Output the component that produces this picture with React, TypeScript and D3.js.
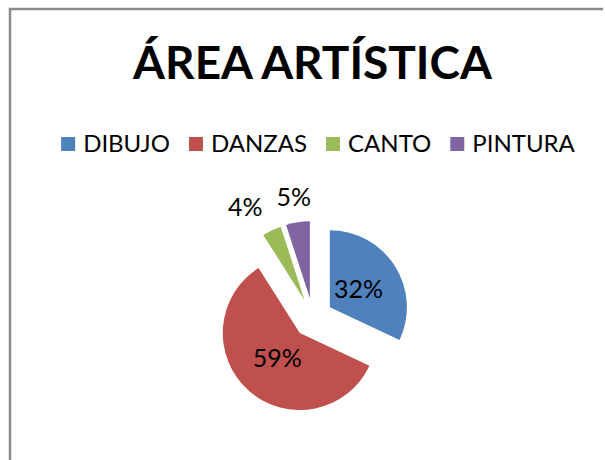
import React, { useEffect, useRef } from "react";
import * as d3 from "d3";

const title = "ÁREA ARTÍSTICA";
const categories = ["DIBUJO", "DANZAS", "CANTO", "PINTURA"];
const values = [32, 59, 4, 5];
const colors = ["#4F81BD", "#C0504D", "#9BBB59", "#8064A2"];

const W = 605;
const H = 460;
const FONT = "Lato, 'Open Sans', sans-serif";

export default function App() {
  const ref = useRef<SVGSVGElement>(null);

  useEffect(() => {
    const svg = d3.select(ref.current);
    svg.selectAll("*").remove();

    // frame (cropped chart area)
    svg
      .append("path")
      .attr("d", `M10,${H + 5} L10,9 L603,9`)
      .attr("fill", "none")
      .attr("stroke", "#8a8a8a")
      .attr("stroke-width", 2.5);

    // title
    svg
      .append("text")
      .attr("x", 312.5)
      .attr("y", 79)
      .attr("text-anchor", "middle")
      .attr("font-family", FONT)
      .attr("font-weight", "bold")
      .attr("font-size", 46)
      .attr("fill", "#000")
      .text(title);

    // legend
    const legendG = svg.append("g");
    const sq = 14;
    const gapText = 8;
    const gapItem = 19;
    let x = 0;
    categories.forEach((c, i) => {
      legendG
        .append("rect")
        .attr("x", x)
        .attr("y", 137)
        .attr("width", sq)
        .attr("height", sq)
        .attr("fill", colors[i]);
      const t = legendG
        .append("text")
        .attr("x", x + sq + gapText)
        .attr("y", 152)
        .attr("font-family", FONT)
        .attr("font-size", 24)
        .attr("fill", "#000")
        .text(c);
      const w = (t.node() as SVGTextElement).getComputedTextLength();
      x += sq + gapText + w + (i < categories.length - 1 ? gapItem : 0);
    });
    legendG.attr("transform", `translate(${318 - x / 2},0)`);

    // pie
    const cx = 313;
    const cy = 318;
    const r = 77;
    const explode = 20;
    const pie = d3
      .pie<number>()
      .sort(null)
      .value((d) => d)
      .startAngle(0)
      .endAngle(2 * Math.PI);
    const arcs = pie(values);
    const arc = d3.arc<d3.PieArcDatum<number>>().innerRadius(0).outerRadius(r);
    const total = d3.sum(values);

    const g = svg.append("g").attr("transform", `translate(${cx},${cy})`);
    const offsets = arcs.map((a) => {
      const mid = (a.startAngle + a.endAngle) / 2;
      return { dx: Math.sin(mid) * explode, dy: -Math.cos(mid) * explode, ux: Math.sin(mid), uy: -Math.cos(mid) };
    });

    g.selectAll("path.slice")
      .data(arcs)
      .enter()
      .append("path")
      .attr("class", "slice")
      .attr("d", (d) => arc(d) as string)
      .attr("fill", (_, i) => colors[i])
      .attr("transform", (_, i) => `translate(${offsets[i].dx},${offsets[i].dy})`);

    // labels
    type L = { text: string; x: number; y: number; w: number; outside: boolean; node?: SVGTextElement };
    const labels: L[] = arcs.map((a, i) => {
      const pct = Math.round((values[i] / total) * 100) + "%";
      const o = offsets[i];
      const outside = values[i] / total < 0.1;
      const rr = outside ? r + 26 : r * 0.44;
      return { text: pct, x: o.dx + o.ux * rr, y: o.dy + o.uy * rr, w: 0, outside };
    });
    labels.forEach((l) => {
      const t = g
        .append("text")
        .attr("font-family", FONT)
        .attr("font-size", 25)
        .attr("fill", "#000")
        .attr("text-anchor", "middle")
        .attr("dy", "0.36em")
        .text(l.text);
      l.node = t.node() as SVGTextElement;
      l.w = l.node.getComputedTextLength();
    });
    // simple collision avoidance for outside labels (push earlier label left)
    const pad = 14;
    for (let i = labels.length - 1; i > 0; i--) {
      const a = labels[i - 1];
      const b = labels[i];
      if (!a.outside || !b.outside) continue;
      const minDist = a.w / 2 + b.w / 2 + pad;
      if (b.x - a.x < minDist) a.x = b.x - minDist;
    }
    labels.forEach((l) => {
      d3.select(l.node!).attr("x", l.x).attr("y", l.y);
    });
  }, []);

  return (
    <svg
      ref={ref}
      width={W}
      height={H}
      style={{ position: "absolute", left: 0, top: 0, background: "#fff" }}
    />
  );
}
